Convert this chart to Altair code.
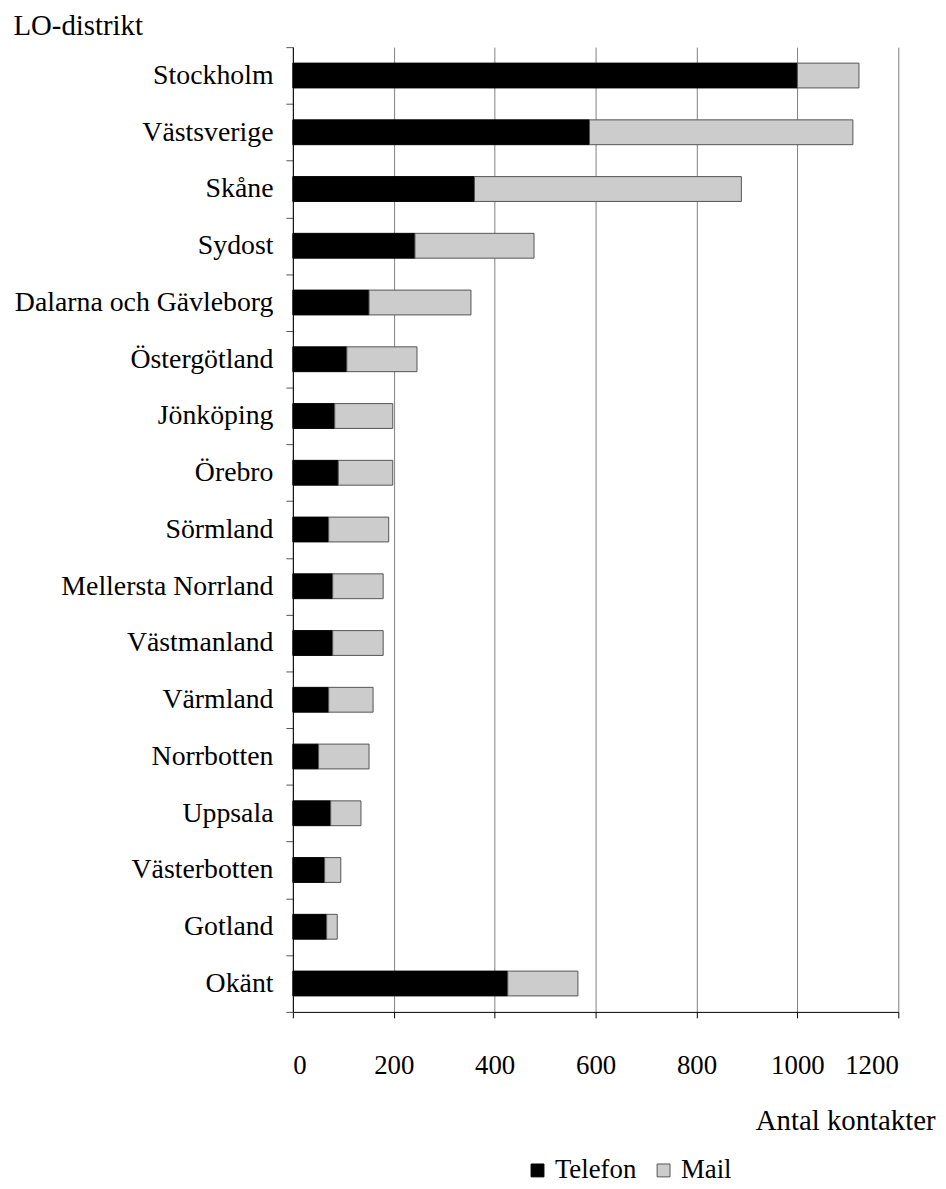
import altair as alt
import pandas as pd

districts = ["Stockholm", "Västsverige", "Skåne", "Sydost", "Dalarna och Gävleborg",
             "Östergötland", "Jönköping", "Örebro", "Sörmland", "Mellersta Norrland",
             "Västmanland", "Värmland", "Norrbotten", "Uppsala", "Västerbotten",
             "Gotland", "Okänt"]
telefon = [1000, 588, 360, 242, 151, 107, 83, 90, 71, 79, 79, 71, 51, 75, 63, 67, 426]
mail = [122, 522, 529, 236, 202, 139, 115, 108, 119, 100, 100, 88, 100, 60, 32, 21, 139]
series = ["Telefon", "Mail"]
x_ticks = [0, 200, 400, 600, 800, 1000, 1200]

rows = []
for d, t, m in zip(districts, telefon, mail):
    rows.append({"distrikt": d, "typ": "Telefon", "antal": t, "ord": 0})
    rows.append({"distrikt": d, "typ": "Mail", "antal": m, "ord": 1})
df = pd.DataFrame(rows)

FONT = "Liberation Serif"

chart = alt.Chart(df).mark_bar(size=25, strokeWidth=1).encode(
    y=alt.Y("distrikt:N", sort=districts,
            scale=alt.Scale(paddingInner=0, paddingOuter=0),
            axis=alt.Axis(title="LO-distrikt", titleAngle=0, titleAlign="left",
                          titleX=-282, titleY=-22, titleBaseline="middle",
                          titleFont=FONT, titleFontSize=29, titleFontWeight="normal",
                          titleColor="#000000",
                          labelFont=FONT, labelFontSize=28, labelColor="#000000",
                          labelLimit=0,
                          labelPadding=13, tickBand="extent", tickSize=7,
                          tickColor="#555555", domainColor="#000000", grid=False)),
    x=alt.X("antal:Q", stack="zero",
            scale=alt.Scale(domain=[0, 1200], nice=False),
            axis=alt.Axis(values=x_ticks, format="d", title="Antal kontakter",
                          titleAlign="right", titleX=647, titleY=110,
                          titleBaseline="middle", titleFont=FONT, titleFontSize=29,
                          titleFontWeight="normal", titleColor="#000000",
                          labelFont=FONT, labelFontSize=27, labelColor="#000000",
                          labelBaseline="middle",
                          labelPadding=48, tickSize=6, tickColor="#000000",
                          domainColor="#000000", grid=True, gridColor="#808080",
                          gridWidth=1)),
    color=alt.Color("typ:N", sort=series,
                    scale=alt.Scale(domain=series, range=["#000000", "#cccccc"]),
                    legend=alt.Legend(title=None, orient="none", direction="horizontal",
                                      legendX=233, legendY=1118, symbolType="square",
                                      symbolSize=169, symbolStrokeColor="#555555",
                                      symbolStrokeWidth=1, labelFont=FONT,
                                      labelFontSize=27, labelColor="#000000",
                                      labelOffset=4, columnPadding=13, padding=0)),
    stroke=alt.Stroke("typ:N", sort=series,
                      scale=alt.Scale(domain=series, range=["#000000", "#555555"]),
                      legend=None),
    order=alt.Order("ord:Q"),
).properties(
    width=610, height=972,
    autosize=alt.AutoSizeParams(type="none"),
    padding={"top": 35, "left": 287, "right": 40, "bottom": 172}
).configure_view(
    stroke=None
)

chart.save("out.html", embed_options={"renderer": "svg", "actions": False})
